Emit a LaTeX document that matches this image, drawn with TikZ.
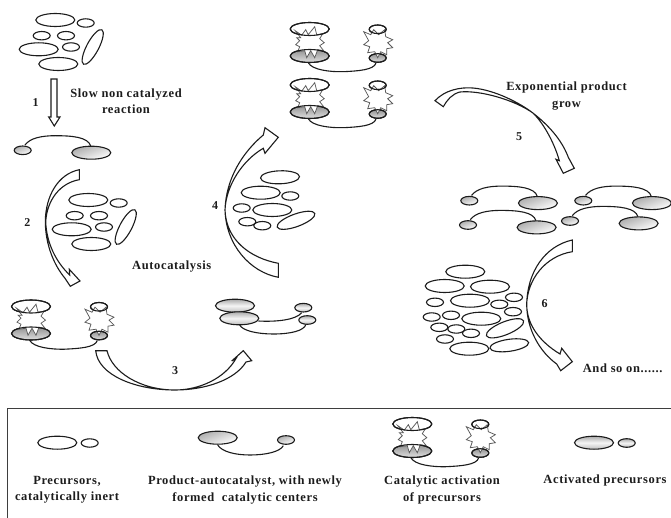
\documentclass[tikz,border=0pt]{standalone}
\usepackage{fontspec}
\setmainfont[LetterSpace=5]{Liberation Serif}
\definecolor{ink}{HTML}{1C1C1C}
\tikzset{
  outl/.style={draw=ink,line width=1.1pt,fill=white},
  lin/.style={draw=ink,line width=1.1pt},
  arrowblock/.style={draw=ink,line width=1.1pt,fill=white,line join=miter},
  burst/.style={draw=gray!70!black,line width=0.75pt,fill=white,line join=miter},
  shadeA/.style={draw=ink,line width=1.1pt,top color=gray!65,bottom color=white,shading angle=20},
  shadeB/.style={draw=ink,line width=1.1pt,top color=gray!65,bottom color=gray!50,middle color=white!92!gray},
  shadeC/.style={draw=ink,line width=1.1pt,top color=gray!85,bottom color=gray!25},
  lab/.style={font=\bfseries\fontsize{12.5}{12}\selectfont,text=ink,inner sep=0pt,align=center},
  num/.style={font=\bfseries\fontsize{12}{12}\selectfont,text=ink,inner sep=0pt}
}
\newcommand{\Ell}[5]{\draw[outl,rotate around={#5:(#1,#2)}] (#1,#2) ellipse [x radius=#3pt,y radius=#4pt];}
\newcommand{\BE}[2]{\draw[outl] (#1,#2) ellipse [x radius=19.5pt,y radius=6.5pt];}
\newcommand{\SE}[2]{\draw[outl] (#1,#2) ellipse [x radius=8.5pt,y radius=4.2pt];}
\newcommand{\ClusterA}[2]{\begin{scope}[shift={(#1,#2)}]
  \BE{55.3}{20}\SE{85.7}{23}\SE{41.7}{35.7}\SE{66}{35.7}\BE{38.7}{49.3}\SE{71}{47}\BE{58.3}{64}
  \Ell{92.7}{47}{19.5}{6}{62}
\end{scope}}
\newcommand{\Prod}[2]{\begin{scope}[shift={(#1,#2)}]
  \draw[lin] (25,145) .. controls (30,138) and (42,135.7) .. (55,135.7) .. controls (72,135.7) and (88,137) .. (90.7,146);
  \draw[shadeA] (22.7,150.3) ellipse [x radius=8.5pt,y radius=4.3pt];
  \draw[shadeA] (91.3,152.7) ellipse [x radius=19.5pt,y radius=6.5pt];
\end{scope}}
\newcommand{\Cat}[2]{\begin{scope}[shift={(#1,#2)}]
  \draw[lin] (308.3,62.7) .. controls (312,70) and (330,72) .. (343.3,71.7) .. controls (358,71) and (374,70) .. (376,63);
  \draw[shadeC] (309.7,56) ellipse [x radius=19.5pt,y radius=6.5pt];
  \draw[shadeC] (377.7,58) ellipse [x radius=8.5pt,y radius=4.3pt];
  \draw[outl] (309.7,29) ellipse [x radius=19.5pt,y radius=6.5pt];
  \draw[outl] (377.7,29.3) ellipse [x radius=8.5pt,y radius=4.3pt];
  \begin{scope}[shift={(309.7,42.7)}]
    \draw[burst] (-14.5,-12)--(-8,-7.5)--(-4,-13)--(-1.5,-8)--(5,-16)--(7,-8)--(13,-9)--(10,-4)--(14.5,0)--(10,3)--(14,8)--(8,7)--(5,15)--(1,8)--(-3,15)--(-5,8)--(-12,9)--(-10,4)--(-14,2)--(-10,-2)--(-13,-5)--(-9,-5)--cycle;
  \end{scope}
  \begin{scope}[shift={(377.7,42.7)}]
    \draw[burst] (-14,-11)--(-7,-8)--(-4,-13)--(1,-8)--(7,-13)--(8,-6)--(15,-3)--(10,0)--(15,5)--(9,6)--(9,12)--(3,9)--(0,15)--(-3,9)--(-10,10)--(-8,4)--(-14,2)--(-9,-2)--cycle;
  \end{scope}
  \draw[lin,fill=none] (309.7,29) ellipse [x radius=19.5pt,y radius=6.5pt];
  \draw[lin,fill=none] (309.7,56) ellipse [x radius=19.5pt,y radius=6.5pt];
  \draw[lin,fill=none] (377.7,29.3) ellipse [x radius=8.5pt,y radius=4.3pt];
  \draw[lin,fill=none] (377.7,58) ellipse [x radius=8.5pt,y radius=4.3pt];
\end{scope}}
\begin{document}
\begin{tikzpicture}[x=1pt,y=-1pt]
\useasboundingbox (0,0) rectangle (671,518);
% clusters
\ClusterA{0}{0}
\ClusterA{33}{180}
% cluster near arrow 4
\Ell{280}{177.3}{19.5}{6.5}{2}
\BE{260.7}{192.7}\SE{290.3}{196}\SE{241.7}{208}\BE{272.3}{210}\SE{247.3}{221.7}\SE{262.3}{225.7}
\Ell{296}{220.3}{20}{6.3}{20}
% large cluster
\BE{465.3}{271.7}\BE{444.7}{286}\BE{490}{286.7}\SE{435}{302.3}\BE{470}{300.7}\SE{499.3}{304.3}\SE{514}{297.3}\SE{513}{311.7}
\SE{431.7}{317}\SE{451}{315.3}\BE{481.3}{318.7}\SE{439.3}{327.3}\SE{456.3}{329}\SE{471}{333.3}
\Ell{505}{328.3}{20}{6.5}{22}\SE{445}{339}\BE{469.3}{348.7}\Ell{509.3}{345.3}{19.5}{6}{8}
% arrow 1
\draw[arrowblock] (51,79) -- (57,79) -- (57,117) -- (60,117) -- (54.3,126) -- (48.7,117) -- (51,117) -- cycle;
% products
\Prod{0}{0}
\Prod{446.6}{50.4}
\Prod{560.6}{50.4}
\Prod{445.3}{74.7}
\Prod{547.3}{70.7}
% catalytic units
\Cat{0}{0}
\Cat{0}{56}
\Cat{-278.7}{277.5}
\Cat{102.6}{395}
% activated precursors pair
\draw[lin] (258.3,321) .. controls (276,322) and (296,320) .. (301.7,312.7);
\draw[lin] (239.3,324.3) .. controls (242,331) and (258,334) .. (273.3,334) .. controls (290,334) and (304,331) .. (306,324.3);
\draw[shadeB] (235,305.7) ellipse [x radius=19.5pt,y radius=6.5pt];
\draw[shadeB] (239.3,318.3) ellipse [x radius=19.5pt,y radius=6.5pt];
\draw[shadeB] (303.3,307.7) ellipse [x radius=8.5pt,y radius=4.3pt];
\draw[shadeB] (307.3,320) ellipse [x radius=8.5pt,y radius=4.3pt];
% curved arrows
\draw[arrowblock] (79.3,169.7) .. controls (58,174) and (45.5,196) .. (45.3,221.7)
  .. controls (45.5,245) and (54,265) .. (65,278.3) -- (70.3,286.3) -- (80,281) -- (69.3,269.3) -- (69.7,275)
  .. controls (56,262) and (46.5,243) .. (45.7,221.7) .. controls (47,200) and (60,183) .. (79.3,179.7) -- cycle;
\draw[arrowblock] (95.7,350.7) .. controls (98,375) and (135,390) .. (175,390)
  .. controls (205,390) and (235,380) .. (246,362) -- (251.7,360.7) -- (243.3,350.7) -- (231.7,361) -- (236,358.5)
  .. controls (225,378) and (200,390) .. (175,390) .. controls (140,390) and (112,372) .. (107,350.7) -- cycle;
\draw[arrowblock] (278.3,263.3) .. controls (250,258) and (226,240) .. (225,210)
  .. controls (226,178) and (243,152) .. (263.3,135) -- (265,127.7) -- (278.3,137.3) -- (265,153.3) -- (263.3,148.3)
  .. controls (243,160) and (226,185) .. (225,210) .. controls (226,245) and (250,272) .. (278.3,277.3) -- cycle;
\draw[arrowblock] (435,100.7) .. controls (445,90) and (460,87) .. (473,88)
  .. controls (495,90) and (520,103) .. (533.3,113.3) .. controls (552,128) and (563,143) .. (568.3,157.3)
  -- (574.3,168.3) -- (563.3,173.3) -- (556,159.3) -- (559.3,160.7)
  .. controls (555,145) and (545,125) .. (533.3,113.3) .. controls (515,100) and (480,90) .. (460,92) .. controls (452,94) and (447,100) .. (443.3,106.7) -- cycle;
\draw[arrowblock] (572.3,240) .. controls (545,246) and (527,272) .. (526.7,305)
  .. controls (527,330) and (540,352) .. (556.7,364) -- (560.7,370.7) -- (572.3,361.7) -- (561.7,348.3) -- (560,354)
  .. controls (540,342) and (527,325) .. (526.7,305) .. controls (527,280) and (545,256) .. (572.3,251.7) -- cycle;
% legend frame
\draw[draw=ink!85,line width=0.9pt] (7.3,518) -- (7.3,408.3) -- (671,408.3);
% legend items
\BE{57.3}{442.7}\SE{89.7}{443}
\draw[lin] (217.7,445) .. controls (222,452) and (236,455) .. (250,455) .. controls (265,455) and (280,452) .. (283.3,445.7);
\draw[shadeA] (217.7,437.7) ellipse [x radius=19.5pt,y radius=6.5pt];
\draw[shadeA] (286,440) ellipse [x radius=8.5pt,y radius=4.3pt];
\draw[shadeB] (594,442.7) ellipse [x radius=19.5pt,y radius=6.5pt];
\draw[shadeB] (626.7,443) ellipse [x radius=8.5pt,y radius=4.3pt];
% labels
\node[num] (n1) at (35.7,102.7) {1};
\node[num] (n2) at (27.3,222.7) {2};
\node[num] (n3) at (175,371) {3};
\node[num] (n4) at (215,206) {4};
\node[num] (n5) at (519,136.7) {5};
\node[num] (n6) at (544.7,303.3) {6};
\node[lab] (t1) at (126,101) {Slow non catalyzed\\[4.5pt]reaction};
\node[lab] (t2) at (171.7,266.7) {Autocatalysis};
\node[lab] (t3) at (566.5,96) {Exponential product\\[4.5pt]grow};
\node[lab] (t4) at (622.7,368.3) {And so on......};
\node[lab] (l1) at (67,490) {Precursors,\\[4.5pt]catalytically inert};
\node[lab] (l2) at (245,490) {Product-autocatalyst, with newly\\[4.5pt]formed\ \ catalytic centers};
\node[lab] (l3) at (442,490) {Catalytic activation\\[4.5pt]of precursors};
\node[lab] (l4) at (605,480) {Activated precursors};
\end{tikzpicture}
\end{document}
